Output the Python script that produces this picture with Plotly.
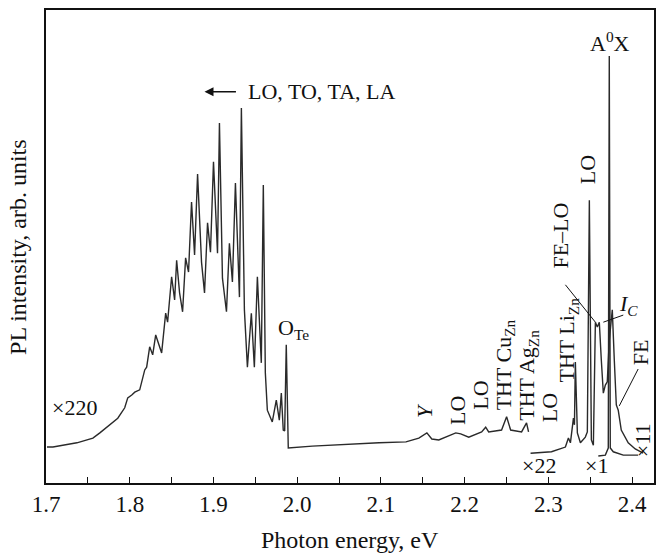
import plotly.graph_objects as go

# ---- data (photon energy in eV, PL intensity in arb. units) ----
# x220 part: broad phonon-replica band, O_Te line and weak lines up to 2.28 eV
e_x220 = [1.7012, 1.7083, 1.7369, 1.7560, 1.7643, 1.7762, 1.7857, 1.7940, 1.7976, 1.8024,
          1.8060, 1.8119, 1.8179, 1.8202, 1.8238, 1.8274, 1.8310, 1.8381, 1.8429, 1.8452,
          1.8500, 1.8536, 1.8560, 1.8595, 1.8631, 1.8667, 1.8702, 1.8738, 1.8774, 1.8810,
          1.8857, 1.8893, 1.8929, 1.8964, 1.9000, 1.9048, 1.9071, 1.9107, 1.9155, 1.9190,
          1.9226, 1.9262, 1.9310, 1.9333, 1.9369, 1.9405, 1.9452, 1.9488, 1.9524, 1.9571,
          1.9595, 1.9619, 1.9643, 1.9702, 1.9750, 1.9786, 1.9810, 1.9833, 1.9850, 1.9869,
          1.9893, 2.0179, 2.0583, 2.0976, 2.1298, 2.1452, 2.1548, 2.1607, 2.1690, 2.1810,
          2.1893, 2.1952, 2.2048, 2.2202, 2.2250, 2.2286, 2.2440, 2.2500, 2.2548, 2.2679,
          2.2738, 2.2762]
i_x220 = [7.6, 7.6, 8.5, 9.5, 10.6, 12.3, 13.7, 15.9, 18.0, 18.6,
          19.2, 19.7, 23.9, 24.5, 28.8, 27.1, 31.3, 27.5, 35.9, 34.0,
          43.6, 38.7, 47.1, 40.2, 36.2, 47.6, 44.6, 59.4, 48.2, 65.3,
          46.7, 40.2, 55.0, 48.8, 67.9, 48.6, 76.1, 43.3, 36.2, 50.7,
          42.5, 63.4, 39.3, 79.3, 36.6, 24.5, 35.9, 24.5, 43.6, 25.4,
          63.0, 23.3, 15.4, 12.9, 17.5, 13.3, 19.0, 11.2, 11.0, 29.2,
          7.4, 7.8, 8.2, 8.5, 8.7, 9.5, 10.6, 9.3, 9.1, 9.9,
          10.6, 10.4, 9.7, 10.8, 11.8, 10.8, 11.2, 14.0, 11.2, 10.8,
          12.7, 10.8]

# x22 part: THT Li_Zn, LO, I_C region and the FE tail (x11)
e_x22 = [2.2786, 2.3036, 2.3202, 2.3238, 2.3262, 2.3298, 2.3310, 2.3321, 2.3345, 2.3381,
         2.3440, 2.3464, 2.3488, 2.3512, 2.3536, 2.3560, 2.3583, 2.3607, 2.3631, 2.3655,
         2.3679, 2.3702, 2.3726, 2.3762, 2.3786, 2.3810, 2.3833, 2.3869, 2.3952, 2.4036,
         2.4131]
i_x22 = [6.3, 6.6, 7.6, 9.5, 8.5, 13.7, 12.3, 25.6, 10.6, 8.5,
         9.7, 10.8, 59.8, 9.1, 8.0, 34.0, 33.0, 34.0, 26.0, 19.0,
         20.7, 21.4, 30.2, 36.6, 26.0, 16.5, 15.4, 11.2, 8.5, 7.2,
         6.3]

# x1 part: A0X line
e_x1 = [2.3595, 2.3679, 2.3714, 2.3726, 2.3738, 2.3774, 2.3893, 2.4071]
i_x1 = [5.7, 5.9, 7.4, 90.3, 7.4, 6.6, 5.9, 5.9]

x_ticks = [1.7, 1.8, 1.9, 2.0, 2.1, 2.2, 2.3, 2.4]
x_tick_text = ["1.7", "1.8", "1.9", "2.0", "2.1", "2.2", "2.3", "2.4"]

FONT = "Liberation Serif, Times New Roman, serif"
LINE = "#2a2a2a"

fig = go.Figure()
for ex, iy in [(e_x220, i_x220), (e_x22, i_x22), (e_x1, i_x1)]:
    fig.add_trace(go.Scatter(x=ex, y=iy, mode="lines",
                             line=dict(color=LINE, width=1.4),
                             hoverinfo="skip", showlegend=False))

ann = []
def lab(x, y, text, angle=0, size=22, xanchor="center"):
    ann.append(dict(x=x, y=y, xref="x", yref="y", text=text, showarrow=False,
                    textangle=angle, xanchor=xanchor, yanchor="middle",
                    font=dict(family=FONT, size=size, color="#111")))

lab(1.9393, 82.7, "LO, TO, TA, LA", xanchor="left")
lab(1.9960, 32.6, "O<sub>Te</sub>")
lab(1.7345, 15.9, "×220")
lab(2.1512, 15.4, "<i>Y</i>", -90)
lab(2.1905, 15.4, "LO", -90)
lab(2.2179, 18.6, "LO", -90)
lab(2.2476, 25.0, "THT Cu<sub>Zn</sub>", -90)
lab(2.2762, 22.8, "THT Ag<sub>Zn</sub>", -90)
lab(2.3012, 15.9, "LO", -90)
lab(2.3238, 30.2, "THT Li<sub>Zn</sub>", -90)
lab(2.3143, 52.4, "FE–LO", -90)
lab(2.3476, 66.2, "LO", -90)
lab(2.3738, 93.2, "A<sup>0</sup>X")
lab(2.3952, 37.6, "<i>I<sub>C</sub></i>")
lab(2.4107, 27.7, "FE", -90)
lab(2.4131, 9.1, "×11", -90)
lab(2.2881, 3.6, "×22")
lab(2.3571, 3.6, "×1")

# arrow "←" before LO, TO, TA, LA
ann.append(dict(x=1.8893, y=82.7, ax=1.9286, ay=82.7, xref="x", yref="y",
                axref="x", ayref="y", text="", showarrow=True, arrowhead=2,
                arrowsize=1.2, arrowwidth=1.5, arrowcolor="#111"))

# axis titles
ann.append(dict(x=0.5, y=-0.12, xref="paper", yref="paper", text="Photon energy, eV",
                showarrow=False, xanchor="center", yanchor="middle",
                font=dict(family=FONT, size=24, color="#111")))
ann.append(dict(x=-0.047, y=0.5, xref="paper", yref="paper", text="PL intensity, arb. units",
                showarrow=False, xanchor="center", yanchor="middle", textangle=-90,
                font=dict(family=FONT, size=24, color="#111")))

shapes = []
def leader(x0, y0, x1, y1):
    shapes.append(dict(type="line", xref="x", yref="y", x0=x0, y0=y0, x1=x1, y1=y1,
                       line=dict(color="#111", width=1)))
leader(2.3202, 41.9, 2.3560, 34.0)   # FE-LO
leader(2.3893, 35.5, 2.3655, 34.0)   # I_C
leader(2.4071, 24.1, 2.3845, 16.3)   # FE

fig.update_layout(
    width=657, height=555,
    margin=dict(l=46, r=1, t=10, b=72),
    paper_bgcolor="white", plot_bgcolor="white",
    annotations=ann, shapes=shapes,
    xaxis=dict(range=[1.7, 2.426], tickvals=x_ticks, ticktext=x_tick_text,
               ticks="inside", ticklen=6, tickwidth=1.3, tickcolor="#111",
               minor=dict(dtick=0.05, tick0=1.7, ticks="inside", ticklen=6,
                          tickwidth=1.3, tickcolor="#111"),
               showline=True, linecolor="#111", linewidth=1.6, mirror=True,
               showgrid=False, zeroline=False,
               tickfont=dict(family=FONT, size=23, color="#111")),
    yaxis=dict(range=[0, 100], showticklabels=False, ticks="",
               showline=True, linecolor="#111", linewidth=1.6, mirror=True,
               showgrid=False, zeroline=False),
)

fig.write_html("out.html", config={"displayModeBar": False},
               post_script="document.body.style.margin='0';document.body.style.padding='0';")
